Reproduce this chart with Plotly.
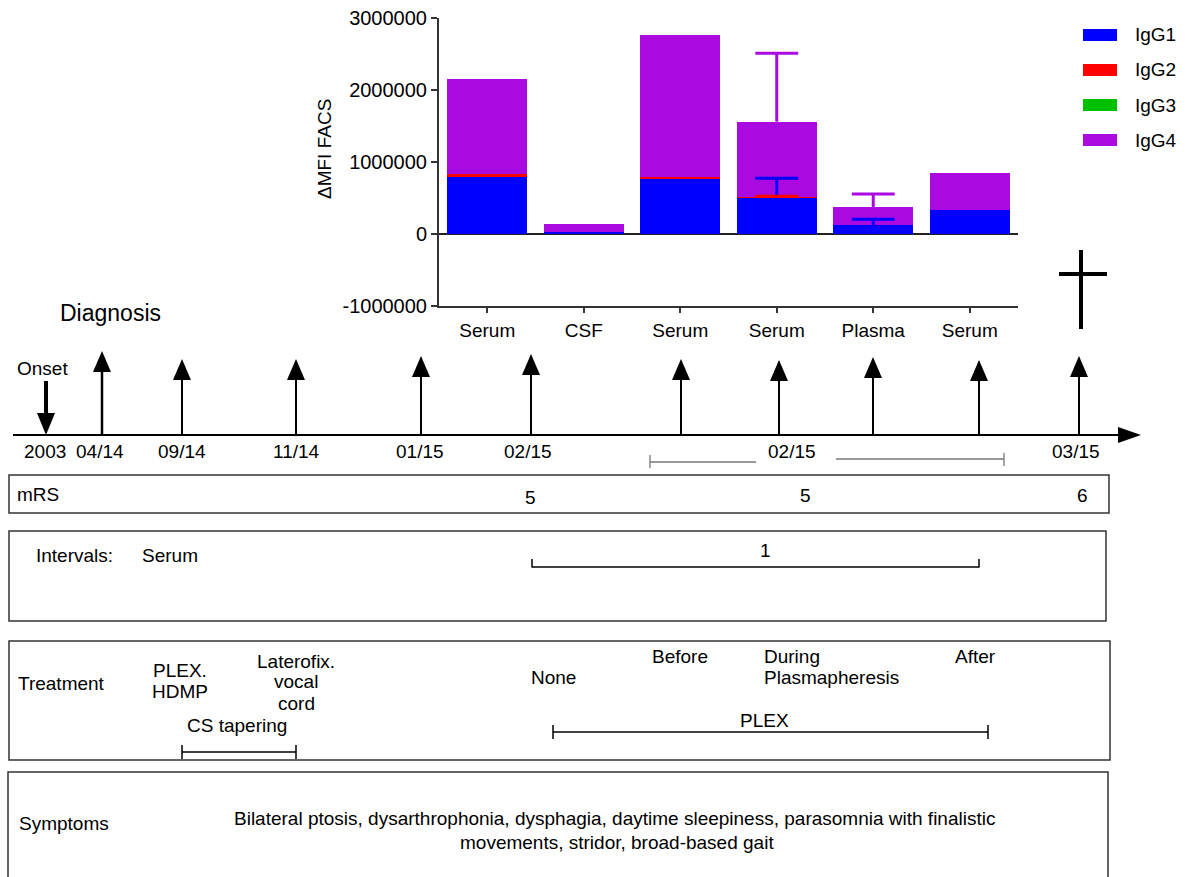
import numpy as np
import plotly.graph_objects as go

W, H = 1188, 877
FONT = "Liberation Sans, Arial, Helvetica, sans-serif"

# ---------------- bar chart data ----------------
sample_labels = ["Serum", "CSF", "Serum", "Serum", "Plasma", "Serum"]
igg1 = [790000, 20000, 755000, 504000, 115000, 333000]
igg2 = [40000, 0, 30000, 10000, 0, 0]
igg3 = [0, 0, 0, 0, 0, 0]
igg4 = [1327000, 110000, 1975000, 1042000, 255000, 514000]
igg1_err = [0, 0, 0, 266000, 85000, 0]
igg2_err = [0, 0, 0, 5000, 0, 0]
igg3_err = [0, 0, 0, 0, 0, 0]
igg4_err = [0, 0, 0, 954000, 180000, 0]
subclass_names = ["IgG1", "IgG2", "IgG3", "IgG4"]
subclass_colors = ["#0000FF", "#FF0000", "#00C000", "#AA0AE0"]
ytick_vals = [-1000000, 0, 1000000, 2000000, 3000000]
ytick_text = ["-1000000", "0", "1000000", "2000000", "3000000"]
y_title = "ΔMFI FACS"

# ---------------- timeline / table text ----------------
timeline_dates = ["2003", "04/14", "09/14", "11/14", "01/15", "02/15", "02/15", "03/15"]
mrs_values = ["5", "5", "6"]
interval_values = ["1"]
treatment_items = ["PLEX.", "HDMP", "Laterofix.", "vocal", "cord", "CS tapering",
                   "None", "Before", "During", "Plasmapheresis", "After", "PLEX"]
symptoms_lines = [
    "Bilateral ptosis, dysarthrophonia, dysphagia, daytime sleepiness, parasomnia with finalistic",
    "movements, stridor, broad-based gait",
]

# ---------------- layout helpers (pixel -> paper) ----------------
def px(x):
    return x / W

def py(y):
    return 1 - y / H

shapes = []
annotations = []

def line(x0, y0, x1, y1, color="black", width=2):
    shapes.append(dict(type="line", xref="paper", yref="paper",
                       x0=px(x0), y0=py(y0), x1=px(x1), y1=py(y1),
                       line=dict(color=color, width=width), layer="above"))

def rect(x0, y0, x1, y1, color="#333333", width=1.5, fill=None):
    shapes.append(dict(type="rect", xref="paper", yref="paper",
                       x0=px(x0), y0=py(y0), x1=px(x1), y1=py(y1),
                       line=dict(color=color, width=width),
                       fillcolor=fill if fill else "rgba(0,0,0,0)", layer="above"))

def tri(points, color="black"):
    d = "M " + " L ".join(f"{px(a):.5f},{py(b):.5f}" for a, b in points) + " Z"
    shapes.append(dict(type="path", xref="paper", yref="paper", path=d,
                       fillcolor=color, line=dict(width=0), layer="above"))

def text(x, y, s, size=19, xanchor="center", angle=0):
    annotations.append(dict(xref="paper", yref="paper", x=px(x), y=py(y), text=s,
                            showarrow=False, xanchor=xanchor, yanchor="middle",
                            textangle=angle,
                            font=dict(family=FONT, size=size, color="black")))

# ---------------- figure: stacked bars ----------------
fig = go.Figure()
xs = list(range(len(sample_labels)))
series = [igg1, igg2, igg3, igg4]
errors = [igg1_err, igg2_err, igg3_err, igg4_err]
for name, vals, col in zip(subclass_names, series, subclass_colors):
    fig.add_trace(go.Bar(x=xs, y=vals, name=name, marker=dict(color=col, line=dict(width=0)),
                         width=0.83))

# one-sided (upper) error bars drawn at the top of each stacked segment
tops = np.cumsum(np.array(series, dtype=float), axis=0)
cap_half = 0.222
for i, (name, err, col) in enumerate(zip(subclass_names, errors, subclass_colors)):
    ex, ey = [], []
    for k in xs:
        if err[k] <= 0:
            continue
        t, u = tops[i][k], tops[i][k] + err[k]
        ex += [k, k, None, k - cap_half, k + cap_half, None]
        ey += [t, u, None, u, u, None]
    if not ex:
        continue
    fig.add_trace(go.Scatter(x=ex, y=ey, mode="lines", line=dict(color=col, width=3),
                             showlegend=False, hoverinfo="skip"))

ax_l, ax_r = 439, 1018
ax_t, ax_b = 18, 305.5
fig.update_layout(
    width=W, height=H, margin=dict(l=0, r=0, t=0, b=0, autoexpand=False),
    paper_bgcolor="white", plot_bgcolor="white",
    barmode="stack", showlegend=False,
    font=dict(family=FONT, color="black"),
    xaxis=dict(domain=[px(ax_l), px(ax_r)], range=[-0.5, 5.5], automargin=False,
               tickvals=xs, ticktext=sample_labels, ticks="outside", ticklen=5,
               tickwidth=2, tickcolor="#333", showline=True, linecolor="#333",
               linewidth=2, showgrid=False, zeroline=False, ticklabelstandoff=2,
               tickfont=dict(size=19, family=FONT, color="black"), fixedrange=True),
    yaxis=dict(domain=[py(ax_b), py(ax_t)], range=[-1000000, 3000000], automargin=False,
               tickvals=ytick_vals, ticktext=ytick_text, ticks="outside", ticklen=6,
               tickwidth=2, tickcolor="#333", showline=True, linecolor="#333",
               linewidth=2, showgrid=False, zeroline=True, zerolinecolor="#222",
               zerolinewidth=2, tickfont=dict(size=20, family=FONT, color="black"),
               fixedrange=True),
)
text(325, 149, y_title, size=19, angle=-90)

# custom legend
for k, (name, col) in enumerate(zip(subclass_names, subclass_colors)):
    yc = 35 + 35 * k
    rect(1083, yc - 6, 1117, yc + 6, color=col, width=0, fill=col)
    text(1133, yc, name, size=19, xanchor="left")

# death cross
line(1081, 250, 1081, 329, width=4)
line(1059, 274, 1107, 274, width=4)

# ---------------- timeline ----------------
axis_y = 435
line(13, axis_y, 1120, axis_y, width=2)
tri([(1118, 427), (1141, axis_y), (1118, 443)])

# onset (down arrow)
line(46, 381, 46, 414, width=4)
tri([(37, 413), (55, 413), (46, axis_y)])
text(42, 368, "Onset", size=19)
text(110, 313, "Diagnosis", size=23)

event_x = [102, 182, 296, 421, 531, 681, 779, 873, 979, 1079]
event_tip = [351, 359, 359, 356, 354, 359, 360, 357, 360, 356]
for k, (ex, et) in enumerate(zip(event_x, event_tip)):
    base = et + 21
    line(ex, base - 1, ex, axis_y, width=2.5 if k == 0 else 2)
    tri([(ex - 9, base), (ex + 9, base), (ex, et)])

date_x = [45, 100, 182, 296, 420, 528, 792, 1076]
for dx, lab in zip(date_x, timeline_dates):
    text(dx, 452, lab, size=19)

# range bracket around second 02/15
line(650, 462, 756, 462, color="#777", width=1.3)
line(836, 459, 1004, 459, color="#777", width=1.3)
line(650, 455, 650, 468, color="#777", width=1.3)
line(1004, 453, 1004, 466, color="#777", width=1.3)

# ---------------- mRS row ----------------
rect(9, 475, 1109, 513)
text(15, 494, "mRS", size=19, xanchor="left")
for mx, my, mv in zip([530, 805, 1082], [497, 495, 495], mrs_values):
    text(mx, my, mv, size=19)

# ---------------- Intervals row ----------------
rect(9, 531, 1106, 621)
text(34, 555, "Intervals:", size=19, xanchor="left")
text(140, 555, "Serum", size=19, xanchor="left")
text(765, 550, interval_values[0], size=19)
line(532, 567, 979, 567, width=1.5)
line(532, 559, 532, 567.5, width=1.5)
line(979, 559, 979, 567.5, width=1.5)

# ---------------- Treatment row ----------------
rect(9, 641, 1110, 760)
text(16, 683, "Treatment", size=19, xanchor="left")
treat_pos = [(180, 670, "center"), (180, 691, "center"), (296, 661, "center"),
             (296, 681, "center"), (296, 703, "center"), (237, 725, "center"),
             (553, 677, "center"), (680, 656, "center"), (762, 656, "left"),
             (762, 677, "left"), (975, 656, "center"), (764, 720, "center")]
for (tx, ty, anc), s in zip(treat_pos, treatment_items):
    text(tx, ty, s, size=19, xanchor=anc)
# CS tapering bracket
line(182, 752, 296, 752, width=1.5)
line(182, 745, 182, 759, width=1.5)
line(296, 745, 296, 759, width=1.5)
# PLEX bracket
line(553, 732, 988, 732, width=1.5)
line(553, 725, 553, 739, width=1.5)
line(988, 725, 988, 739, width=1.5)

# ---------------- Symptoms row ----------------
rect(8, 772, 1108, 900)
text(17, 823, "Symptoms", size=19, xanchor="left")
text(614, 818, symptoms_lines[0], size=19)
text(617, 842, symptoms_lines[1], size=19)

fig.update_layout(shapes=shapes, annotations=annotations)

fig.write_html("out.html", config={"displayModeBar": False},
               post_script="document.body.style.margin='0px';document.body.style.overflow='hidden';")
